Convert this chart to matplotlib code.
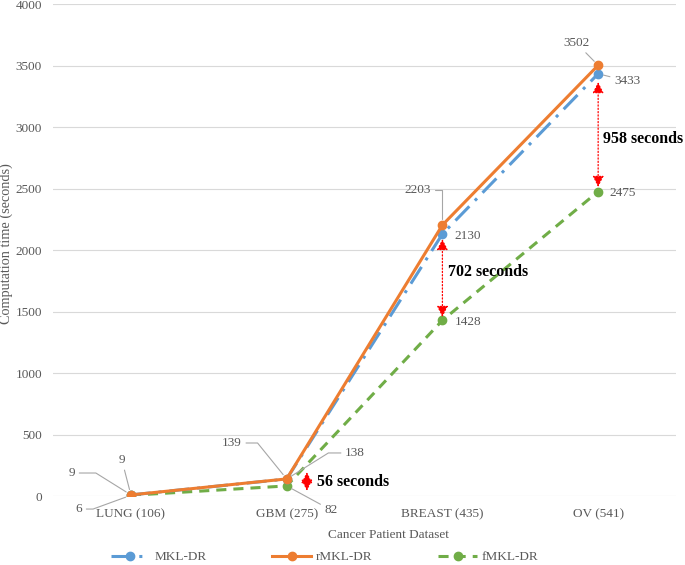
import matplotlib.pyplot as plt
import matplotlib as mpl

# data
datasets = ["LUNG (106)", "GBM (275)", "BREAST (435)", "OV (541)"]
mkl_dr = [9, 138, 2130, 3433]
rmkl_dr = [9, 139, 2203, 3502]
fmkl_dr = [6, 82, 1428, 2475]
gap_labels = ["56 seconds", "702 seconds", "958 seconds"]

mpl.rcParams["font.family"] = "Liberation Serif"
mpl.rcParams["font.size"] = 9.5

grey = "#595959"
leader = "#A6A6A6"
blue, orange, green = "#5B9BD5", "#ED7D31", "#70AD47"

fig = plt.figure(figsize=(6.85, 5.65), dpi=100)
ax = fig.add_axes([0.0774, 0.1221, 0.9095, 0.8708])

x = list(range(len(datasets)))
ax.plot(x, mkl_dr, color=blue, lw=2.2, marker="o", ms=6, dashes=(6.5, 2.6, 1, 2.6),
        label="MKL-DR", zorder=4)
ax.plot(x, rmkl_dr, color=orange, lw=2.2, marker="o", ms=6, label="rMKL-DR", zorder=5)
ax.plot(x, fmkl_dr, color=green, lw=2.2, marker="o", ms=6, dashes=(3.3, 2.3),
        label="fMKL-DR", zorder=3)

ax.set_xlim(-0.5, 3.5)
ax.set_ylim(0, 4000)
ax.set_yticks(range(0, 4001, 500))
ax.set_xticks(x)
ax.set_xticklabels(datasets)
ax.tick_params(axis="both", length=0, colors=grey, labelsize=9.5)
ax.tick_params(axis="y", pad=8)
ax.tick_params(axis="x", pad=9)
for s in ax.spines.values():
    s.set_visible(False)
ax.grid(axis="y", color="#D9D9D9", lw=0.8)
ax.set_axisbelow(True)

ax.set_xlabel("Cancer Patient Dataset", color=grey, fontsize=9.5)
ax.xaxis.set_label_coords(0.539, -0.067)
ax.set_ylabel("Computation time (seconds)", color=grey, fontsize=10.3)
ax.yaxis.set_label_coords(-0.064, 0.514)

# data labels: (series values, index, label position, leader (relpos x, angleB))
label_pos = [
    (rmkl_dr, 0, (-0.379, 187), (1, 148)),
    (mkl_dr, 0, (-0.058, 293), "straight"),
    (fmkl_dr, 0, (-0.334, -106), (1, 20)),
    (rmkl_dr, 1, (0.649, 431), (1, 129)),
    (mkl_dr, 1, (1.439, 350), (0, 32)),
    (fmkl_dr, 1, (1.285, -114), "straight"),
    (rmkl_dr, 2, (1.844, 2488), (1, 90)),
    (mkl_dr, 2, (2.165, 2114), None),
    (fmkl_dr, 2, (2.165, 1415), None),
    (rmkl_dr, 3, (2.859, 3683), "straight"),
    (mkl_dr, 3, (3.186, 3374), "straight"),
    (fmkl_dr, 3, (3.160, 2463), None),
]
for series, i, pos, style in label_pos:
    props = None
    if style == "straight":
        props = dict(arrowstyle="-", color=leader, lw=0.8, shrinkA=1, shrinkB=4)
    elif style is not None:
        rx, angle_b = style
        props = dict(arrowstyle="-", color=leader, lw=0.8, shrinkA=1, shrinkB=4,
                     relpos=(rx, 0.5),
                     connectionstyle=f"angle,angleA=0,angleB={angle_b},rad=0")
    ax.annotate(str(series[i]), xy=(i, series[i]), xytext=pos, ha="center", va="center",
                color=grey, fontsize=9.5, arrowprops=props, annotation_clip=False, zorder=6)

# gap arrows between rMKL/MKL and fMKL
arrow_spans = [(1.13, 42, 195), (2.0, 1455, 2090), (3.0, 2512, 3366)]
text_pos = [(1.195, 114), (2.036, 1821), (3.032, 2902)]
for (ax_x, y0, y1), lab, (tx, ty) in zip(arrow_spans, gap_labels, text_pos):
    ax.annotate("", xy=(ax_x, y1), xytext=(ax_x, y0),
                arrowprops=dict(arrowstyle="<|-|>,head_length=0.7,head_width=0.35",
                                color="red", lw=0.9, linestyle=":", shrinkA=0, shrinkB=0),
                zorder=7)
    ax.text(tx, ty, lab, ha="left", va="center", fontsize=11.5, fontweight="bold",
            color="black", zorder=7)

ax.legend(loc="center", bbox_to_anchor=(0.474, 0.014), bbox_transform=fig.transFigure,
          ncol=3, frameon=False, fontsize=9.5, labelcolor=grey, handlelength=2.9,
          columnspacing=5.0, handletextpad=0.4)

fig.savefig("out.png", dpi=100)
